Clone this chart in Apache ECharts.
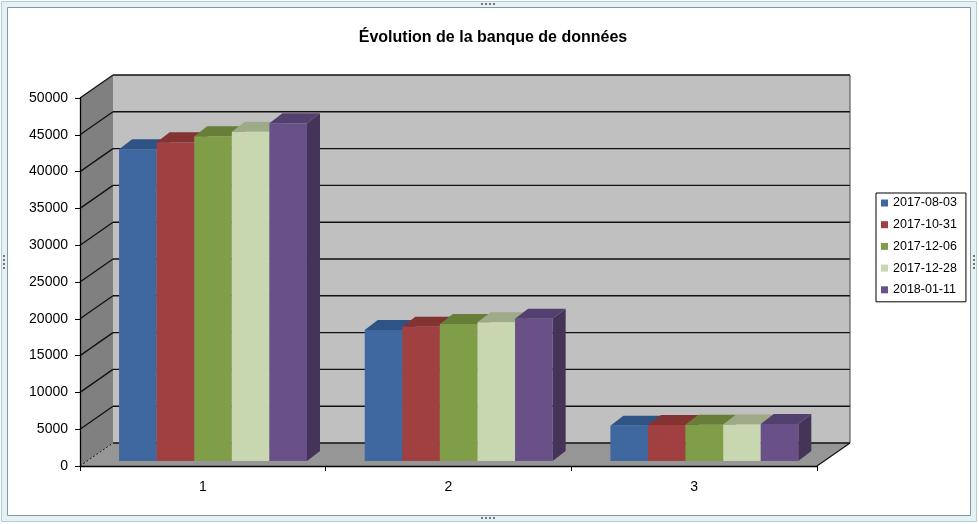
<!DOCTYPE html>
<html>
<head>
<meta charset="utf-8">
<script src="https://cdn.jsdelivr.net/npm/echarts@6/dist/echarts.min.js"></script>
<style>
html,body{margin:0;padding:0;background:#fff;}
#c{width:979px;height:524px;}
</style>
</head>
<body>
<div id="c"></div>
<script>
var categories = ['1', '2', '3'];
var seriesNames = ['2017-08-03', '2017-10-31', '2017-12-06', '2017-12-28', '2018-01-11'];
var s20170803 = [42350, 17800, 4800];
var s20171031 = [43300, 18250, 4890];
var s20171206 = [44120, 18600, 4930];
var s20171228 = [44740, 18840, 4960];
var s20180111 = [45880, 19330, 5030];
var yTicks = [0, 5000, 10000, 15000, 20000, 25000, 30000, 35000, 40000, 45000, 50000];

var allValues = [s20170803, s20171031, s20171206, s20171228, s20180111];
var frontColors = ['#3F68A0', '#A04040', '#809D48', '#C8D7AF', '#6A5089'];
var topColors   = ['#2F5384', '#843333', '#667E37', '#9EAA88', '#54406E'];
var sideColors  = ['#2B4A76', '#722B2B', '#5A6F30', '#8C9777', '#443458'];
var FONT = 'Liberation Sans, Arial, sans-serif';

var DX = 33, DY = -23;

function wallsRender(params, api) {
  var cs = params.coordSys;
  var L = cs.x, R = cs.x + cs.width, T = cs.y, B = cs.y + cs.height;
  var ch = [];
  ch.push({type: 'polygon', shape: {points: [[L, T], [L + DX, T + DY], [L + DX, B + DY], [L, B]]}, style: {fill: '#808080'}});
  ch.push({type: 'rect', shape: {x: L + DX, y: T + DY, width: R - L, height: B - T}, style: {fill: '#C0C0C0'}});
  ch.push({type: 'polygon', shape: {points: [[L, B], [R, B], [R + DX, B + DY], [L + DX, B + DY]]}, style: {fill: '#969696'}});
  yTicks.forEach(function (v) {
    var y = api.coord([0, v])[1];
    ch.push({type: 'line', shape: {x1: L + DX, y1: y + DY, x2: R + DX, y2: y + DY}, style: {stroke: '#111', lineWidth: 1.4}});
    ch.push({type: 'line', shape: {x1: L, y1: y, x2: L + DX, y2: y + DY},
      style: {stroke: '#111', lineWidth: v === 0 ? 1 : 1.3, lineDash: v === 0 ? [2, 2] : null}});
  });
  ch.push({type: 'line', shape: {x1: R + DX, y1: T + DY, x2: R + DX, y2: B + DY}, style: {stroke: '#444', lineWidth: 1}});
  ch.push({type: 'line', shape: {x1: R, y1: B, x2: R + DX, y2: B + DY}, style: {stroke: '#111', lineWidth: 1.2}});
  return {type: 'group', children: ch};
}

function makeBarRender(k) {
  return function (params, api) {
    var cat = api.value(0), val = api.value(1);
    var p0 = api.coord([cat, 0]), p1 = api.coord([cat, val]);
    var bw = api.size([1, 0])[0];
    var w = bw * 0.153;
    var x0 = p0[0] - bw / 2 + bw * 0.159 + k * w;
    var x1 = x0 + w;
    var yb = p0[1] - 5, yt = p1[1] - 5;
    var dx = 13, dy = -10;
    return {type: 'group', children: [
      {type: 'polygon', shape: {points: [[x1, yt], [x1 + dx, yt + dy], [x1 + dx, yb + dy], [x1, yb]]}, style: {fill: sideColors[k]}},
      {type: 'polygon', shape: {points: [[x0, yt], [x0 + dx, yt + dy], [x1 + dx, yt + dy], [x1, yt]]}, style: {fill: topColors[k]}},
      {type: 'rect', shape: {x: x0, y: yt, width: w, height: yb - yt}, style: {fill: frontColors[k]}}
    ]};
  };
}

var series = [{
  type: 'custom', name: 'walls', silent: true, z: 1,
  renderItem: wallsRender, data: [[0, 0]], encode: {x: 0, y: 1}
}];
seriesNames.forEach(function (n, k) {
  series.push({
    type: 'custom', name: n, z: 3,
    itemStyle: {color: frontColors[k]},
    renderItem: makeBarRender(k),
    data: allValues[k].map(function (v, i) { return [i, v]; }),
    encode: {x: 0, y: 1}
  });
});

var chart = echarts.init(document.getElementById('c'), null, {renderer: 'canvas'});
chart.setOption({
  animation: false,
  backgroundColor: '#ffffff',
  textStyle: {fontFamily: FONT},
  graphic: [
    {type: 'rect', z: -10, shape: {x: 1.5, y: 1.5, width: 975, height: 520}, style: {fill: '#E4F2F6', stroke: '#B4CCD4', lineWidth: 1}},
    {type: 'rect', z: -9, shape: {x: 7.5, y: 7.5, width: 963, height: 508}, style: {fill: '#ffffff', stroke: '#8A989E', lineWidth: 1}},
    {type: 'group', z: -8, children: [
      {type: 'rect', shape: {x: 481, y: 3, width: 2, height: 2}, style: {fill: '#777'}},
      {type: 'rect', shape: {x: 485, y: 3, width: 2, height: 2}, style: {fill: '#777'}},
      {type: 'rect', shape: {x: 489, y: 3, width: 2, height: 2}, style: {fill: '#777'}},
      {type: 'rect', shape: {x: 493, y: 3, width: 2, height: 2}, style: {fill: '#777'}},
      {type: 'rect', shape: {x: 481, y: 517, width: 2, height: 2}, style: {fill: '#777'}},
      {type: 'rect', shape: {x: 485, y: 517, width: 2, height: 2}, style: {fill: '#777'}},
      {type: 'rect', shape: {x: 489, y: 517, width: 2, height: 2}, style: {fill: '#777'}},
      {type: 'rect', shape: {x: 493, y: 517, width: 2, height: 2}, style: {fill: '#777'}},
      {type: 'rect', shape: {x: 3, y: 255, width: 2, height: 2}, style: {fill: '#777'}},
      {type: 'rect', shape: {x: 3, y: 259, width: 2, height: 2}, style: {fill: '#777'}},
      {type: 'rect', shape: {x: 3, y: 263, width: 2, height: 2}, style: {fill: '#777'}},
      {type: 'rect', shape: {x: 3, y: 267, width: 2, height: 2}, style: {fill: '#777'}},
      {type: 'rect', shape: {x: 973, y: 255, width: 2, height: 2}, style: {fill: '#777'}},
      {type: 'rect', shape: {x: 973, y: 259, width: 2, height: 2}, style: {fill: '#777'}},
      {type: 'rect', shape: {x: 973, y: 263, width: 2, height: 2}, style: {fill: '#777'}},
      {type: 'rect', shape: {x: 973, y: 267, width: 2, height: 2}, style: {fill: '#777'}}
    ]}
  ],
  title: {
    text: 'Évolution de la banque de données',
    left: 488, top: 25, textAlign: 'center',
    textStyle: {fontFamily: FONT, fontSize: 16, fontWeight: 'bold', color: '#000'}
  },
  legend: {
    data: seriesNames,
    orient: 'vertical',
    left: 876, top: 193,
    icon: 'rect', itemWidth: 7, itemHeight: 7, itemGap: 7.7,
    padding: [3, 9, 5, 5],
    borderColor: '#000', borderWidth: 1,
    textStyle: {fontFamily: FONT, fontSize: 12.5, color: '#000', lineHeight: 14}
  },
  grid: {left: 80, right: 162, top: 98, bottom: 58, containLabel: false},
  xAxis: {
    type: 'category', data: categories, z: 10,
    axisLine: {lineStyle: {color: '#000', width: 1.3}},
    axisTick: {show: true, length: 5, lineStyle: {color: '#000'}},
    axisLabel: {fontFamily: FONT, fontSize: 14, color: '#000', margin: 14},
    splitLine: {show: false}
  },
  yAxis: {
    type: 'value', min: 0, max: 50000, interval: 5000, z: 10,
    axisLine: {show: true, lineStyle: {color: '#000', width: 1.3}},
    axisTick: {show: true, length: 5, lineStyle: {color: '#000'}},
    axisLabel: {fontFamily: FONT, fontSize: 14, color: '#000', margin: 12,
      formatter: function (v) { return String(v); }},
    splitLine: {show: false}
  },
  series: series
});
</script>
</body>
</html>
